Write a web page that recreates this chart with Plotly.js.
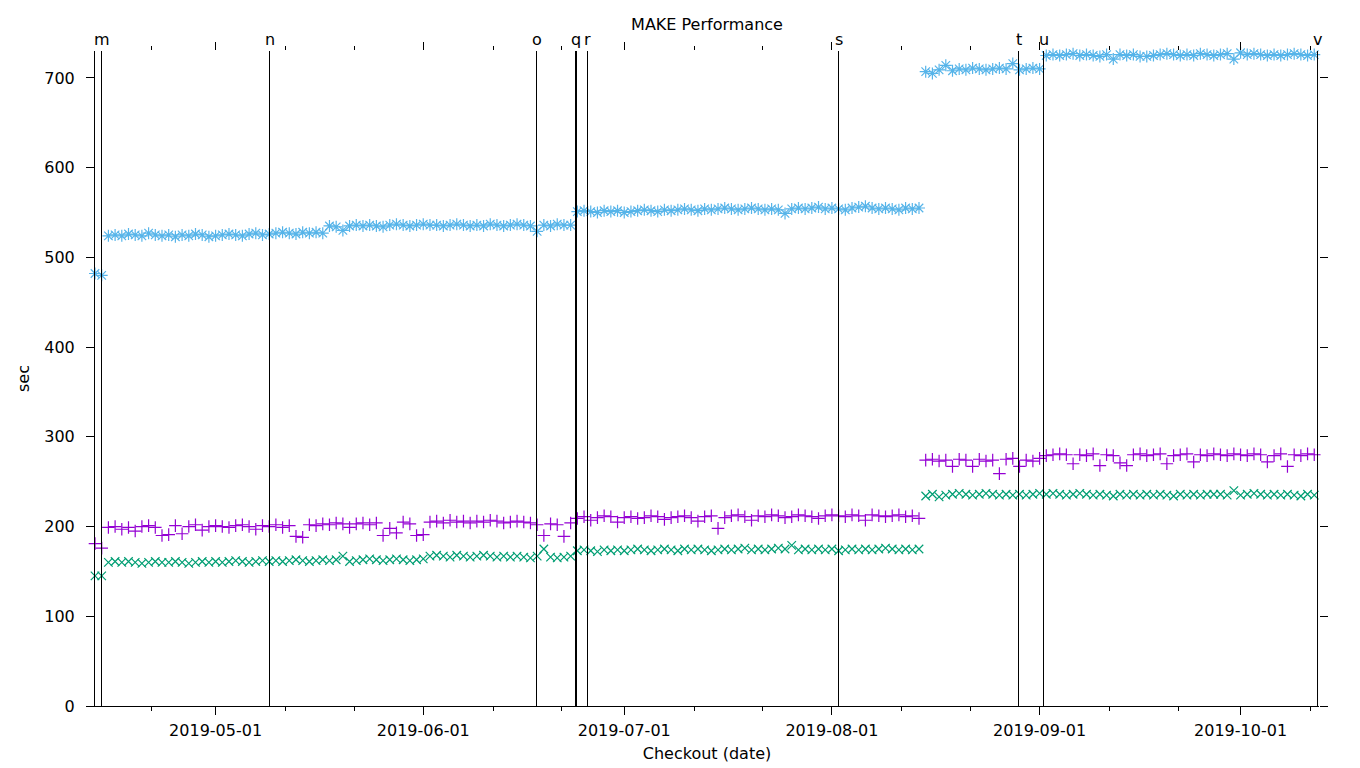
<!DOCTYPE html>
<html>
<head>
<meta charset="utf-8">
<script src="https://cdn.plot.ly/plotly-3.0.1.min.js"></script>
<style>
  html, body { margin: 0; padding: 0; background: #fff; }
  #chart { width: 1360px; height: 768px; }
</style>
</head>
<body>
<div id="chart"></div>
<script>
// one run per day, starting at this checkout date
const startDay = '2019-04-13';

// purple "+" series (sec)
const purpleSec = [
  181, 176,
  199, 200, 197, 199, 195, 200, 201, 199, 190, 191,
  201, 192, 200, 202, 196, 200, 201, 200, 199, 201,
  202, 200, 197, 201, 200, 202, 199, 201, 189, 188,
  202, 201, 203, 202, 204, 203, 199, 203, 204, 202,
  204, 190, 198, 193, 205, 203, 190, 191,
  205, 206, 204, 207, 205, 206, 204, 206, 205, 207, 206, 204, 205, 206, 205, 204,
  202, 190, 203, 202, 189, 204,
  209, 211, 207, 210, 212, 211, 205, 210, 211, 209,
  210, 212, 211, 208, 210, 211, 212, 210, 206, 211,
  212, 198, 210, 212, 213, 211, 207, 212, 211, 213,
  212, 210, 211, 213, 212, 211, 209, 212, 213, 212,
  211, 213, 212, 207, 213, 212, 211, 212, 213, 211,
  212, 209,
  274, 275, 273, 274, 267, 275, 274, 267, 275, 273, 274, 259, 275, 276, 267, 274, 273, 276,
  279, 280, 281, 280, 270, 280, 279, 281, 268, 280,
  279, 271, 268, 280, 281, 279, 280, 281, 270, 279,
  280, 281, 272, 280, 279, 281, 280, 279, 281, 280,
  279, 281, 280, 272, 279, 281, 267, 280, 279, 281,
  280
];

// green "x" series (sec)
const greenSec = [
  145, 145,
  160, 161, 160, 161, 160, 159, 160, 161, 160, 160,
  161, 160, 159, 160, 161, 160, 161, 160, 161, 162,
  161, 160, 161, 162, 161, 162, 161, 162, 163, 162,
  161, 162, 163, 162, 163, 167, 161, 162, 163, 164,
  163, 162, 163, 164, 163, 162, 163, 164,
  167, 168, 167, 166, 168, 167, 166, 167, 168, 167, 166,
  167, 166, 167, 166, 165, 167, 175, 166, 165, 166, 167,
  173, 174, 173, 172, 174, 173, 174, 173, 174, 175,
  174, 173, 174, 175, 174, 173, 175, 174, 175, 174,
  173, 174, 175, 174, 175, 176, 174, 175, 174, 175,
  176, 175, 179, 174, 175, 174, 175, 174, 175, 173,
  174, 175, 174, 175, 174, 175, 176, 175, 174, 175,
  174, 175,
  234, 236, 233, 235, 236, 237, 236, 235, 236, 237,
  236, 235, 236, 235, 236, 235, 236, 237, 236, 237,
  236, 235, 236, 237, 236, 235, 236, 235, 234, 236,
  235, 236, 235, 236, 235, 236, 235, 234, 236, 235,
  236, 235, 236, 236, 236, 235, 240, 235, 236, 237,
  236, 235, 236, 235, 236, 235, 234, 236, 235
];

// light blue "*" series (sec)
const blueSec = [
  482, 480,
  524, 525, 524, 526, 525, 524, 527, 525, 524, 525,
  523, 525, 524, 526, 525, 523, 524, 525, 526, 525,
  524, 526, 527, 525, 526, 527, 528, 527, 526, 528,
  527, 528, 527,
  535, 534, 530, 535, 536, 535, 536, 535, 534, 536,
  537, 536, 535, 536, 537, 536, 536, 535, 536, 537,
  536, 535, 536, 535, 537, 536, 535, 536, 537, 536,
  535, 529, 536, 535, 537, 536, 536,
  551, 552, 551, 550, 552, 551, 552, 550, 551, 552,
  553, 552, 551, 553, 552, 553, 554, 553, 552, 554,
  553, 554, 555, 554, 553, 554, 555, 554, 553, 554,
  553, 549, 554, 555, 554, 555, 556, 554, 555, 554,
  553, 555, 556, 557, 555, 554, 555, 554, 553, 555,
  554, 555,
  707, 705, 709, 714, 708, 710, 709, 711, 710, 709,
  710, 711, 710, 716, 709, 710, 711, 710,
  725, 726, 725, 726, 727, 725, 726, 725, 724, 726,
  721, 726, 725, 726, 724, 724, 725, 726, 727, 726,
  725, 726, 725, 727, 726, 725, 726, 727, 721, 728,
  726, 727, 726, 725, 726, 725, 726, 727, 726, 725,
  726
];

// commit markers drawn as vertical lines
const markerLabels = ['m', 'n', 'o', 'q', 'r', 's', 't', 'u', 'v'];
const markerDates = [
  '2019-04-13 23:17', '2019-05-09 01:09', '2019-06-17 21:42',
  '2019-06-23 19:12', '2019-06-25 12:25', '2019-08-01 23:38',
  '2019-08-28 20:30', '2019-09-01 14:04', '2019-10-12 11:41'
];

const monthTicks = ['2019-05-01', '2019-06-01', '2019-07-01', '2019-08-01', '2019-09-01', '2019-10-01'];
const minorTicks = [
  '2019-04-21 12:00', '2019-05-11 10:00', '2019-05-21 17:00', '2019-06-11 10:00',
  '2019-06-21 17:00', '2019-07-11 10:00', '2019-07-21 17:00', '2019-08-11 10:00',
  '2019-08-21 17:00', '2019-09-11 10:00', '2019-09-21 17:00', '2019-10-11 10:00'
];

function dayList(start, n) {
  const out = [];
  const t0 = new Date(start + 'T00:00:00Z').getTime();
  for (let i = 0; i < n; i++) {
    out.push(new Date(t0 + i * 86400000).toISOString().slice(0, 10));
  }
  return out;
}

const days = dayList(startDay, blueSec.length);
const xRange = ['2019-04-13 00:00', '2019-10-12 17:00'];
const yRange = [0, 730];

const font = {family: 'DejaVu Sans, sans-serif', size: 16, color: '#000'};

var purpleTrace = {
  type: 'scatter', mode: 'markers', x: days, y: purpleSec,
  cliponaxis: false,
  marker: {symbol: 'cross-thin-open', size: 9, color: '#9400d3', line: {width: 1.2, color: '#9400d3'}}
};
var greenTrace = {
  type: 'scatter', mode: 'markers', x: days, y: greenSec,
  cliponaxis: false,
  marker: {symbol: 'x-thin-open', size: 8.5, color: '#009e73', line: {width: 1.2, color: '#009e73'}}
};
var blueTrace = {
  type: 'scatter', mode: 'markers', x: days, y: blueSec,
  xaxis: 'x2', yaxis: 'y2',
  cliponaxis: false,
  marker: {symbol: 'asterisk-open', size: 10, color: '#56b4e9', line: {width: 1.2, color: '#56b4e9'}}
};

var shapes = markerDates.map((d, i) => ({
  type: 'line', xref: 'x', yref: 'paper', x0: d, x1: d, y0: 0, y1: 1,
  layer: 'above',
  line: {color: '#000', width: markerLabels[i] === 'q' ? 2 : 1}
}));

var annotations = markerDates.map((d, i) => ({
  xref: 'x', yref: 'paper', x: d, y: 1, yanchor: 'bottom', yshift: 0,
  text: markerLabels[i], showarrow: false, font: font
}));

var tickCommon = {
  ticks: 'outside', ticklen: 8, tickwidth: 1, tickcolor: '#000',
  showgrid: false, zeroline: false
};

var layout = {
  width: 1360, height: 768,
  margin: {l: 95, r: 41, t: 51, b: 62},
  paper_bgcolor: '#fff', plot_bgcolor: '#fff',
  font: font,
  showlegend: false,
  title: {text: 'MAKE Performance', font: font, x: 0.5, xref: 'paper', y: 1 - 24 / 768, yref: 'container', yanchor: 'middle'},
  xaxis: Object.assign({}, tickCommon, {
    type: 'date', range: xRange,
    tickmode: 'array', tickvals: monthTicks, tickformat: '%Y-%m-%d',
    minor: {tickmode: 'array', tickvals: minorTicks, ticks: 'outside', ticklen: 4, tickcolor: '#000', showgrid: false},
    showline: true, linecolor: '#000', linewidth: 1,
    ticklabelstandoff: 2,
    title: {text: 'Checkout (date)', font: font, standoff: 8}
  }),
  yaxis: Object.assign({}, tickCommon, {
    range: yRange, tickmode: 'linear', tick0: 0, dtick: 100,
    showline: true, linecolor: '#000', linewidth: 1,
    ticklabelstandoff: 8,
    title: {text: 'sec', font: font, standoff: 10}
  }),
  xaxis2: Object.assign({}, tickCommon, {
    type: 'date', range: xRange, overlaying: 'x', side: 'top', anchor: 'y2',
    tickmode: 'array', tickvals: monthTicks, showticklabels: false,
    minor: {tickmode: 'array', tickvals: minorTicks, ticks: 'outside', ticklen: 4, tickcolor: '#000', showgrid: false},
    showline: false
  }),
  yaxis2: Object.assign({}, tickCommon, {
    range: yRange, overlaying: 'y', side: 'right', anchor: 'x2',
    tickmode: 'linear', tick0: 0, dtick: 100, showticklabels: false,
    showline: false
  }),
  shapes: shapes,
  annotations: annotations
};

Plotly.newPlot('chart', [purpleTrace, greenTrace, blueTrace], layout, {staticPlot: true});
</script>
</body>
</html>
